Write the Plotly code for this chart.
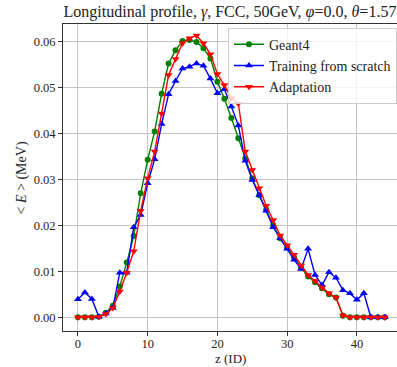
import plotly.graph_objects as go

z = list(range(45))

geant4 = [0, 0, 0, 0.0001, 0.0010, 0.0025, 0.0067, 0.0119, 0.0177, 0.0270,
          0.0343, 0.0405, 0.0487, 0.0553, 0.0582, 0.0602, 0.0604, 0.0600, 0.0586, 0.0564,
          0.0513, 0.0476, 0.0434, 0.0390, 0.0346, 0.0303, 0.0266, 0.0235, 0.0200, 0.0172,
          0.0152, 0.0130, 0.0108, 0.0089, 0.0076, 0.0063, 0.0050, 0.0043, 0.0003, 0,
          0, 0, 0, 0, 0]

scratch = [0.0039, 0.0054, 0.0040, 0.0001, 0.0008, 0.0020, 0.0097, 0.0097, 0.0196, 0.0223,
           0.0292, 0.0344, 0.0421, 0.0486, 0.0515, 0.0542, 0.0546, 0.0553, 0.0548, 0.0520,
           0.0488, 0.0497, 0.0459, 0.0418, 0.0341, 0.0299, 0.0266, 0.0232, 0.0196, 0.0172,
           0.0149, 0.0125, 0.0105, 0.0149, 0.0092, 0.0070, 0.0098, 0.0086, 0.0059, 0.0052,
           0.0038, 0.0052, 0, 0, 0]

adaptation = [0, 0, 0, 0.0001, 0.0007, 0.0020, 0.0056, 0.0097, 0.0144, 0.0232,
              0.0303, 0.0361, 0.0444, 0.0528, 0.0563, 0.0597, 0.0608, 0.0614, 0.0597, 0.0573,
              0.0530, 0.0506, 0.0477, 0.0466, 0.0361, 0.0321, 0.0281, 0.0243, 0.0212, 0.0178,
              0.0157, 0.0136, 0.0113, 0.0092, 0.0079, 0.0065, 0.0052, 0.0043, 0.0004, 0,
              0, 0, 0, 0, 0]

x_ticks = [0, 10, 20, 30, 40]
y_ticks = [0.00, 0.01, 0.02, 0.03, 0.04, 0.05, 0.06]

FONT = "Liberation Serif, Times New Roman, Times, serif"

fig = go.Figure()
fig.add_trace(go.Scatter(x=z, y=geant4, mode="lines+markers", name="Geant4",
                         line=dict(color="#008000", width=1.4),
                         marker=dict(symbol="circle", size=6, color="#008000")))
fig.add_trace(go.Scatter(x=z, y=scratch, mode="lines+markers", name="Training from scratch",
                         line=dict(color="#0000ff", width=1.4),
                         marker=dict(symbol="triangle-up", size=7, color="#0000ff")))
fig.add_trace(go.Scatter(x=z, y=adaptation, mode="lines+markers", name="Adaptation",
                         line=dict(color="#ff0000", width=1.4),
                         marker=dict(symbol="triangle-down", size=7, color="#ff0000")))

axis_common = dict(showline=True, linecolor="#333", linewidth=1, mirror=True,
                   ticks="outside", ticklen=4, tickcolor="#333", automargin=False,
                   showgrid=True, gridcolor="#c4c4c4", gridwidth=1, zeroline=False,
                   tickfont=dict(family=FONT, size=12.5, color="#222"))

fig.update_layout(
    width=397, height=367,
    margin=dict(l=63, r=0, t=24, b=36, autoexpand=False),
    paper_bgcolor="white", plot_bgcolor="white",
    font=dict(family=FONT, color="#222"),
    title=dict(text="Longitudinal profile, <i>γ</i>, FCC, 50GeV, <i>φ</i>=0.0, <i>θ</i>=1.57",
               x=0.5, xanchor="center", xref="paper", y=0.985, yref="container", yanchor="top",
               font=dict(family=FONT, size=16, color="#222")),
    xaxis=dict(range=[-2.14, 45.75], tickvals=x_ticks, ticklabelstandoff=-3, **axis_common),
    yaxis=dict(range=[-0.003, 0.0639], tickvals=y_ticks, tickformat=".2f", **axis_common),
    legend=dict(x=0.494, y=0.988, xanchor="left", yanchor="top", itemwidth=30,
                bgcolor="rgba(255,255,255,0.8)", bordercolor="#ccc", borderwidth=1,
                font=dict(family=FONT, size=14, color="#222"), tracegroupgap=0),
    showlegend=True,
    annotations=[
        dict(text="z (ID)", xref="paper", yref="paper", x=0.5, y=-0.091,
             xanchor="center", yanchor="middle", showarrow=False,
             font=dict(family=FONT, size=13, color="#222")),
        dict(text="< <i>E</i> > (MeV)", xref="paper", yref="paper", x=-0.123, y=0.5,
             xanchor="center", yanchor="middle", textangle=-90, showarrow=False,
             font=dict(family=FONT, size=14, color="#222")),
    ],
)

fig.write_html("out.html", config={"displayModeBar": False},
               post_script="document.body.style.margin='0';document.body.style.overflow='hidden';")
